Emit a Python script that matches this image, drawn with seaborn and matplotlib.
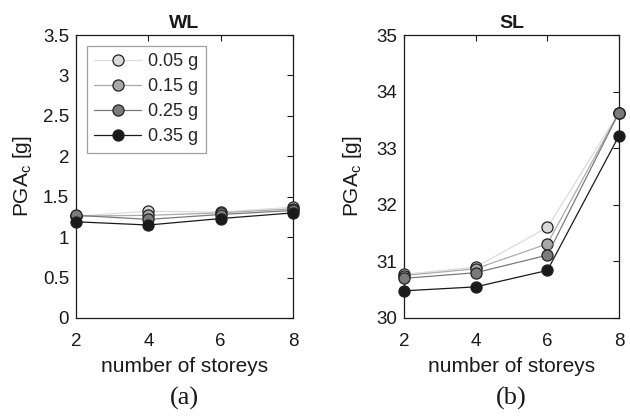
import numpy as np
import pandas as pd
import matplotlib
matplotlib.use("Agg")
import matplotlib.pyplot as plt
import seaborn as sns

storeys = [2, 4, 6, 8]
pga_levels = ["0.05 g", "0.15 g", "0.25 g", "0.35 g"]

wl_005 = [1.26, 1.32, 1.31, 1.37]
wl_015 = [1.26, 1.27, 1.30, 1.35]
wl_025 = [1.27, 1.22, 1.28, 1.33]
wl_035 = [1.19, 1.15, 1.23, 1.30]

sl_005 = [30.77, 30.90, 31.60, 33.63]
sl_015 = [30.75, 30.87, 31.31, 33.63]
sl_025 = [30.70, 30.80, 31.11, 33.63]
sl_035 = [30.48, 30.55, 30.84, 33.22]

line_colors = ["#dcdcdc", "#ababab", "#7a7a7a", "#1a1a1a"]
face_colors = ["#d9d9d9", "#a8a8a8", "#7b7b7b", "#1a1a1a"]


def make_df(series):
    rows = []
    for lvl, vals in zip(pga_levels, series):
        for s, v in zip(storeys, vals):
            rows.append({"storeys": s, "pga": lvl, "value": v})
    return pd.DataFrame(rows)


df_wl = make_df([wl_005, wl_015, wl_025, wl_035])
df_sl = make_df([sl_005, sl_015, sl_025, sl_035])

sns.set_theme(style="white")
plt.rcParams["font.family"] = ["Liberation Sans", "DejaVu Sans"]
plt.rcParams["mathtext.fontset"] = "custom"
plt.rcParams["mathtext.rm"] = "Liberation Sans"

fig = plt.figure(figsize=(6.3, 4.16), dpi=100)
ax1 = fig.add_axes([76 / 630, 1 - 318 / 416, 217 / 630, 283 / 416])
ax2 = fig.add_axes([404 / 630, 1 - 318 / 416, 215 / 630, 283 / 416])

for ax, df, ylim, yticks, title, lab_x in [
    (ax1, df_wl, (0, 3.5), [0, 0.5, 1, 1.5, 2, 2.5, 3, 3.5], "WL", (34 - 76) / 217),
    (ax2, df_sl, (30, 35), [30, 31, 32, 33, 34, 35], "SL", (364 - 404) / 215),
]:
    for i, lvl in enumerate(pga_levels):
        sub = df[df["pga"] == lvl]
        sns.lineplot(data=sub, x="storeys", y="value", ax=ax,
                     color=line_colors[i], lw=0.9, marker="o", markersize=8,
                     markerfacecolor=face_colors[i], markeredgecolor="#222222",
                     markeredgewidth=0.9, label=lvl, zorder=3 + i, clip_on=False)
    ax.set_xlim(2, 8)
    ax.set_ylim(*ylim)
    ax.set_xticks(storeys)
    ax.set_yticks(yticks)
    ax.set_yticklabels([f"{t:g}" for t in yticks])
    ax.tick_params(direction="in", top=True, right=True, length=4, width=0.8,
                   labelsize=13.5, colors="#1a1a1a")
    ax.tick_params(axis="x", pad=10.5)
    ax.tick_params(axis="y", pad=5)
    for sp in ax.spines.values():
        sp.set_color("#1a1a1a")
        sp.set_linewidth(0.9)
    ax.set_xlabel("number of storeys", fontsize=15, color="#1a1a1a", labelpad=5)
    ax.set_ylabel(r"PGA$_\mathregular{c}$ [g]", fontsize=15, color="#1a1a1a")
    ax.yaxis.set_label_coords(lab_x, 0.5)
    ax.set_title(title, fontsize=14, fontweight="bold", color="#1a1a1a", pad=5)
    if ax is ax1:
        leg = ax.legend(loc="upper left", fontsize=13, frameon=True, fancybox=False,
                        edgecolor="#888888", handlelength=2.6, borderaxespad=0.6,
                        handletextpad=0.4, labelspacing=0.45)
        leg.get_frame().set_linewidth(0.9)
    else:
        ax.get_legend().remove()

fig.text((76 + 293) / 2 / 630, 1 - 398 / 416, "(a)", ha="center", va="center",
         fontsize=19, family="Liberation Serif", color="#1a1a1a")
fig.text((404 + 619) / 2 / 630, 1 - 398 / 416, "(b)", ha="center", va="center",
         fontsize=19, family="Liberation Serif", color="#1a1a1a")

fig.savefig("out.png", dpi=100)
